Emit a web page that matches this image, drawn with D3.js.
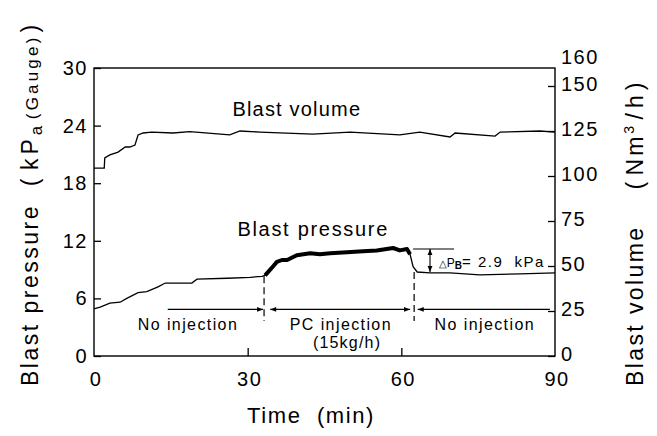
<!DOCTYPE html>
<html>
<head>
<meta charset="utf-8">
<script src="https://cdn.jsdelivr.net/npm/d3@7"></script>
<style>
    body { margin: 0; background: #fff; }
    text { font-family: "Liberation Sans", Arial, sans-serif; fill: #000; }
    .axisLine { stroke: #000; stroke-width: 1.4; fill: none; }
</style>
</head>
<body>
<script>
// blast pressure / blast volume vs time

// data:
var pressTime = [0, 1.2, 3.1, 5.1, 6.4, 8.6, 10.3, 12.5, 13.9, 16.4, 19.1, 20.1, 26.0, 30.5, 32.8,
    33.4, 34.4, 34.9, 35.7, 36.7, 37.7, 39.6, 42.2, 44.1, 46.1, 49.4, 52.5, 55.2, 58.4, 59.7, 61.1,
    61.7, 62.3, 63.1, 65.6, 69.5, 75.3, 83.2, 90];
var pressValue = [4.9, 5.1, 5.5, 5.6, 6.0, 6.6, 6.7, 7.2, 7.6, 7.6, 7.6, 8.0, 8.1, 8.2, 8.3,
    8.4, 9.0, 9.3, 9.8, 10.0, 10.0, 10.5, 10.7, 10.6, 10.7, 10.8, 10.9, 11.0, 11.25, 11.0, 11.15,
    10.6, 9.3, 8.75, 8.65, 8.65, 8.45, 8.55, 8.65];
var volTime = [0, 2.0, 2.1, 3.1, 4.7, 6.1, 7.0, 8.0, 8.6, 9.6, 11.3, 15.4, 18.7, 26.5, 28.5, 32.4,
    42.7, 50.0, 59.7, 63.6, 69.5, 70.5, 78.3, 79.3, 87.1, 90];
var volValue = [104.4, 104.4, 110, 111.7, 113.3, 116.1, 116.1, 117.2, 122.8, 123.9, 124.4, 123.9,
    124.7, 122.8, 125, 124.4, 123.3, 124.4, 122.8, 124.4, 121.7, 123.9, 122.2, 124.4, 125, 124.4];

// injection phases (min) + arrow level (kPa):
var phaseEdges = [33.2, 62.5];
var phaseArrows = [[14.4, 33.0], [34.4, 61.7], [63.2, 89.0]];
var phaseLabels = ["No injection", "PC injection", "No injection"];
var arrowLevel = 4.85;
var dashBottom = 3.65;
// delta P marker (kPa):
var deltaTop = 11.15, deltaBottom = 8.75, deltaTime = 65.6;

// ticks:
var xTicks = [0, 30, 60, 90];
var leftTicks = [0, 6, 12, 18, 24, 30];
var rightTicks = [0, 25, 50, 75, 100, 125, 150];

var width = 657, height = 436;
var plotLeft = 94, plotRight = 555, plotTop = 68, plotBottom = 356;

var svg = d3.select("body").append("svg")
    .attr("width", width)
    .attr("height", height);

var x = d3.scaleLinear().domain([0, 90]).range([plotLeft, plotRight]);
var yP = d3.scaleLinear().domain([0, 30]).range([plotBottom, plotTop]);
var yV = d3.scaleLinear().domain([0, 160]).range([plotBottom, plotTop]);

// arrowhead markers:
var defs = svg.append("defs");
defs.append("marker")
    .attr("id", "arrow")
    .attr("viewBox", "0 0 10 10")
    .attr("refX", 10).attr("refY", 5)
    .attr("markerWidth", 9).attr("markerHeight", 6)
    .attr("markerUnits", "userSpaceOnUse")
    .attr("orient", "auto-start-reverse")
    .append("path")
    .attr("d", "M0,1L10,5L0,9Z")
    .attr("fill", "#000");

// frame:
svg.append("rect")
    .attr("class", "axisLine")
    .attr("x", plotLeft).attr("y", plotTop)
    .attr("width", plotRight - plotLeft)
    .attr("height", plotBottom - plotTop);

// axes with inward ticks:
var leftAxis = d3.axisRight(yP).tickValues(leftTicks).tickSize(7).tickFormat("");
svg.append("g").attr("transform", "translate(" + plotLeft + ",0)").call(leftAxis);
var rightAxis = d3.axisLeft(yV).tickValues(rightTicks).tickSize(7).tickFormat("");
svg.append("g").attr("transform", "translate(" + plotRight + ",0)").call(rightAxis);
var bottomAxis = d3.axisTop(x).tickValues([30, 60]).tickSize(8).tickFormat("");
svg.append("g").attr("transform", "translate(0," + plotBottom + ")").call(bottomAxis);
svg.selectAll(".domain").remove();
svg.selectAll(".tick line").attr("stroke", "#000").attr("stroke-width", 1.3);

// tick labels:
svg.selectAll(".leftLab").data(leftTicks).enter().append("text")
    .attr("x", plotLeft - 6)
    .attr("y", function (d) { return yP(d) + 7; })
    .attr("text-anchor", "end")
    .attr("font-size", 20)
    .attr("letter-spacing", 1.5)
    .text(function (d) { return d; });

svg.selectAll(".rightLab").data(rightTicks.concat([160])).enter().append("text")
    .attr("x", plotRight + 6)
    .attr("y", function (d) { return yV(d) + (d == 160 ? -4 : 5); })
    .attr("font-size", 20)
    .attr("letter-spacing", 1.5)
    .text(function (d) { return d; });

svg.selectAll(".xLab").data(xTicks).enter().append("text")
    .attr("x", function (d) { return x(d) + 2; })
    .attr("y", plotBottom + 30)
    .attr("text-anchor", "middle")
    .attr("font-size", 20)
    .attr("letter-spacing", 1.5)
    .text(function (d) { return d; });

// axis titles (spread out like the original):
var leftTitle = svg.append("text")
    .attr("transform", "translate(38,386) rotate(-90)")
    .attr("font-size", 23)
    .attr("letter-spacing", 2.5)
    .attr("xml:space", "preserve");
leftTitle.append("tspan").text("Blast pressure  (");
leftTitle.append("tspan").attr("dx", 6).attr("letter-spacing", 4).text("kP");
leftTitle.append("tspan").attr("font-size", 17).attr("dy", 4).text("a");
leftTitle.append("tspan").attr("font-size", 17).attr("dy", -4).attr("dx", 4)
    .attr("letter-spacing", 3.2).text("(Gauge)");
leftTitle.append("tspan").attr("dx", 2).text(")");

var rightTitle = svg.append("text")
    .attr("transform", "translate(643,386) rotate(-90)")
    .attr("font-size", 23)
    .attr("letter-spacing", 2.4)
    .attr("xml:space", "preserve");
rightTitle.append("tspan").text("Blast volume");
rightTitle.append("tspan").attr("dx", 36).text("(");
rightTitle.append("tspan").attr("dx", 4).attr("letter-spacing", 3).text("Nm");
rightTitle.append("tspan").attr("font-size", 14).attr("dy", -9).text("3");
rightTitle.append("tspan").attr("dy", 9).attr("dx", 4).attr("letter-spacing", 5).text("/h)");

svg.append("text")
    .attr("x", 311).attr("y", 423)
    .attr("text-anchor", "middle")
    .attr("font-size", 22)
    .attr("letter-spacing", 1.6)
    .attr("xml:space", "preserve")
    .text("Time  (min)");

// lines:
var pressData = pressTime.map(function (t, i) { return [t, pressValue[i]]; });
var volData = volTime.map(function (t, i) { return [t, volValue[i]]; });

var pLine = d3.line().x(function (d) { return x(d[0]); }).y(function (d) { return yP(d[1]); });
var vLine = d3.line().x(function (d) { return x(d[0]); }).y(function (d) { return yV(d[1]); });

svg.append("path")
    .datum(volData)
    .attr("d", vLine)
    .attr("fill", "none").attr("stroke", "#000").attr("stroke-width", 1.3);

svg.append("path")
    .datum(pressData)
    .attr("d", pLine)
    .attr("fill", "none").attr("stroke", "#000").attr("stroke-width", 1.3);

// thick part during injection:
svg.append("path")
    .datum(pressData.filter(function (d) { return d[0] >= 33.4 && d[0] <= 61.8; }))
    .attr("d", pLine)
    .attr("fill", "none").attr("stroke", "#000").attr("stroke-width", 4)
    .attr("stroke-linejoin", "round");

// series labels:
svg.append("text").attr("x", x(39.6)).attr("y", 116)
    .attr("text-anchor", "middle").attr("font-size", 20).attr("letter-spacing", 1.2)
    .text("Blast volume");
svg.append("text").attr("x", x(42.8)).attr("y", 236)
    .attr("text-anchor", "middle").attr("font-size", 20).attr("letter-spacing", 1.7)
    .text("Blast pressure");

// phase dashed lines:
svg.selectAll(".edge").data(phaseEdges).enter().append("line")
    .attr("x1", function (d) { return x(d); })
    .attr("x2", function (d) { return x(d); })
    .attr("y1", function (d, i) { return yP(i == 0 ? 8.3 : 8.75); })
    .attr("y2", yP(dashBottom))
    .attr("stroke", "#000").attr("stroke-width", 1.2)
    .attr("stroke-dasharray", "7,4");

// phase arrows:
svg.selectAll(".phase").data(phaseArrows).enter().append("line")
    .attr("x1", function (d) { return x(d[0]); })
    .attr("x2", function (d) { return x(d[1]); })
    .attr("y1", yP(arrowLevel)).attr("y2", yP(arrowLevel))
    .attr("stroke", "#000").attr("stroke-width", 1.2)
    .attr("marker-start", function (d, i) { return i > 0 ? "url(#arrow)" : null; })
    .attr("marker-end", function (d, i) { return i < 2 ? "url(#arrow)" : null; });

var labelX = [x(18.35), x(48.2), x(76.3)];
svg.selectAll(".phaseLab").data(phaseLabels).enter().append("text")
    .attr("x", function (d, i) { return labelX[i]; })
    .attr("y", yP(arrowLevel) + 21)
    .attr("text-anchor", "middle")
    .attr("font-size", 16)
    .attr("letter-spacing", 1.4)
    .text(function (d) { return d; });
svg.append("text")
    .attr("x", x(49.4)).attr("y", yP(arrowLevel) + 39)
    .attr("text-anchor", "middle")
    .attr("font-size", 16)
    .attr("letter-spacing", 1.2)
    .text("(15kg/h)");

// delta P marker:
svg.append("line")
    .attr("x1", x(62.3)).attr("x2", x(70.3))
    .attr("y1", yP(deltaTop)).attr("y2", yP(deltaTop))
    .attr("stroke", "#000").attr("stroke-width", 1.1);
svg.append("line")
    .attr("x1", x(deltaTime)).attr("x2", x(deltaTime))
    .attr("y1", yP(deltaTop)).attr("y2", yP(deltaBottom))
    .attr("stroke", "#000").attr("stroke-width", 1.1)
    .attr("marker-start", "url(#arrow)")
    .attr("marker-end", "url(#arrow)");

var dText = svg.append("text")
    .attr("x", x(67.3)).attr("y", yP(deltaBottom) - 5)
    .attr("font-size", 15)
    .attr("xml:space", "preserve");
dText.append("tspan").attr("font-size", 10).text("△");
dText.append("tspan").attr("font-size", 12).text("P");
dText.append("tspan").attr("font-size", 10).attr("font-weight", "bold").attr("dy", 2).text("B");
dText.append("tspan").attr("dy", -2).attr("letter-spacing", 1.5).text("= 2.9  kPa");
</script>
</body>
</html>
